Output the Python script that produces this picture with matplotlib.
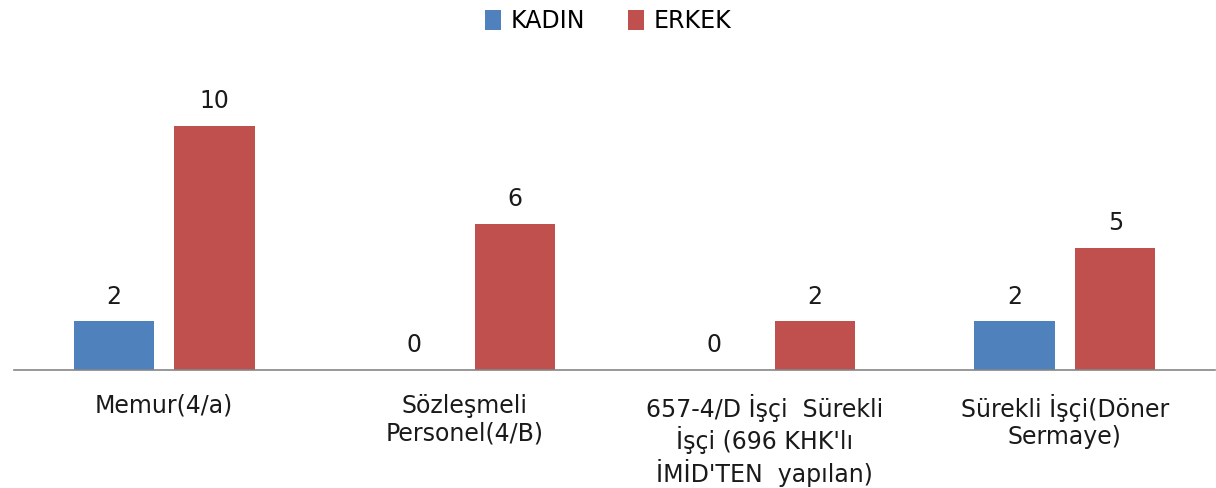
import matplotlib.pyplot as plt
import numpy as np

# données
categories = [
    "Memur(4/a)",
    "Sözleşmeli\nPersonel(4/B)",
    "657-4/D İşçi  Sürekli\nİşçi (696 KHK'lı\nİMİD'TEN  yapılan)",
    "Sürekli İşçi(Döner\nSermaye)",
]
kadin = [2, 0, 0, 2]
erkek = [10, 6, 2, 5]

bleu = "#4F81BD"
rouge = "#C0504D"

fig = plt.figure(figsize=(12.16, 4.88), dpi=100)
ax = fig.add_axes([14 / 1216, 118 / 488, 1201 / 1216, 293 / 488])

x = np.arange(len(categories))
w = 0.267
off = 0.168
b1 = ax.bar(x - off, kadin, w, color=bleu, label="KADIN")
b2 = ax.bar(x + off, erkek, w, color=rouge, label="ERKEK")

# étiquettes de valeurs
for barres in (b1, b2):
    for b in barres:
        h = b.get_height()
        ax.annotate(f"{h:g}", (b.get_x() + b.get_width() / 2, h),
                    xytext=(0, 9), textcoords="offset points",
                    ha="center", va="bottom", fontsize=17, color="#1a1a1a")

ax.set_xlim(-0.5, 3.5)
ax.set_ylim(0, 12)
ax.set_xticks(x)
ax.set_xticklabels(categories, fontsize=17, color="#1a1a1a", linespacing=1.2)
ax.tick_params(axis="x", length=0, pad=17)
ax.set_yticks([])
for s in ["top", "right", "left"]:
    ax.spines[s].set_visible(False)
ax.spines["bottom"].set_color("#868686")
ax.spines["bottom"].set_linewidth(1.2)

fig.legend(loc="upper center", bbox_to_anchor=(0.5, 1.025), ncol=2, frameon=False,
           fontsize=17, handlelength=0.7, handleheight=0.9, handletextpad=0.4,
           columnspacing=1.8)

fig.savefig("out.png", dpi=100)
